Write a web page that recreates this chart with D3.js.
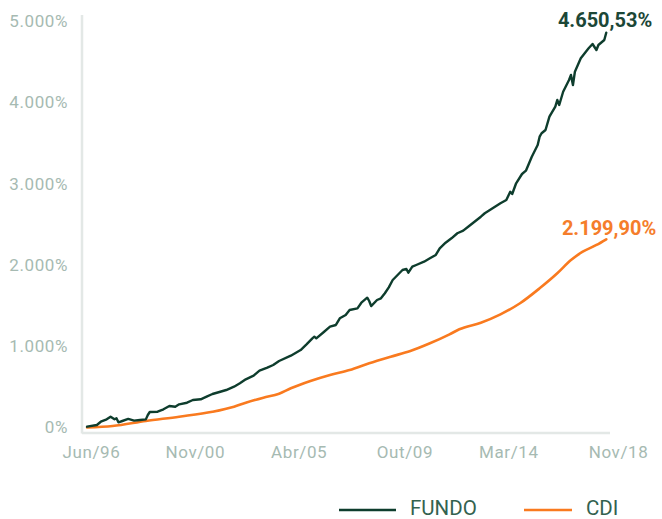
<!DOCTYPE html>
<html>
<head>
<meta charset="utf-8">
<script src="https://cdn.jsdelivr.net/npm/d3@7"></script>
<style>
  html, body { margin: 0; padding: 0; background: #ffffff; }
  svg { display: block; }
  text { font-family: Roboto, "Noto Sans", sans-serif; }
</style>
</head>
<body>
<svg id="chart" width="662" height="519"></svg>
<script>
// ---- data (month offsets counted from Jun/96) ----
const fundoMonths = [-2,3,5,8,10,12,13,14,16,19,22,25,28,29,30,34,37,40,43,45,49,52,56,59,62,66,69,73,76,79,83,86,90,93,96,102,107,110,113,114,115,119,122,125,127,130,132,136,138,141,142,143,146,148,150,152,154,157,159,161,162,164,166,170,173,176,178,181,184,187,190,193,199,201,205,209,212,214,215,217,220,222,225,228,229,230,232,234,237,238,239,241,244,245,246,247,250,252,254,256,258,259,262,263];
const fundoValues = [10,31,71,101,133,101,113,64,80,105,84,92,100,154,191,194,224,264,256,285,305,338,347,379,412,440,461,502,544,593,637,699,736,769,818,883,953,1023,1097,1117,1097,1178,1240,1261,1343,1384,1445,1466,1535,1597,1556,1494,1568,1589,1651,1724,1814,1888,1937,1950,1904,1978,1999,2039,2081,2122,2204,2273,2327,2389,2421,2478,2593,2635,2696,2758,2798,2900,2872,3004,3118,3159,3331,3475,3577,3619,3659,3823,3946,4028,3967,4130,4274,4336,4213,4376,4541,4603,4664,4717,4643,4705,4766,4856];

const cdiMonths = [-2,11,28,45,62,73,79,88,96,102,112,122,132,142,153,163,173,183,188,199,209,219,229,238,245,251,258,263];
const cdiValues = [0,18,80,133,194,256,305,367,415,482,572,646,707,790,871,941,1036,1146,1208,1289,1392,1528,1712,1897,2060,2162,2245,2315];

const tickMonths = [0,53,106,160,213,269];
const tickLabels = ["Jun/96","Nov/00","Abr/05","Out/09","Mar/14","Nov/18"];
const yTicks = [0,1000,2000,3000,4000,5000];

const seriesNames = ["FUNDO","CDI"];
const endLabels = ["4.650,53%","2.199,90%"];
const colors = ["#0e3d2d","#f97a1f"];
const labelColors = ["#1c4737","#f57d2b"];

// ---- chart ----
const svg = d3.select("#chart");
const x = d3.scaleLinear().domain([0, 269]).range([91, 618]);
const y = d3.scaleLinear().domain([0, 5000]).range([427.5, 21]);

const ptBR = d3.formatLocale({decimal: ",", thousands: ".", grouping: [3], currency: ["R$", ""]});
const fmt = ptBR.format(",");

// axis lines
svg.append("line").attr("x1", 82).attr("x2", 82).attr("y1", 15).attr("y2", 433.5)
  .attr("stroke", "#e3e8e6").attr("stroke-width", 2.5);
svg.append("line").attr("x1", 82).attr("x2", 610).attr("y1", 433).attr("y2", 433)
  .attr("stroke", "#e3e8e6").attr("stroke-width", 2.5);

// y axis labels
const yAxis = svg.append("g").attr("transform", "translate(82,0)")
  .call(d3.axisLeft(y).tickValues(yTicks).tickSize(0).tickPadding(14)
    .tickFormat(d => d === 0 ? "0%" : fmt(d) + "%"));
yAxis.select(".domain").remove();
yAxis.selectAll("text").attr("fill", "#a6bab2").style("font-size", "17px")
  .style("letter-spacing", "0.6px").style("font-family", "Roboto, sans-serif");

// x axis labels
const xAxis = svg.append("g").attr("transform", "translate(0,433)")
  .call(d3.axisBottom(x).tickValues(tickMonths).tickSize(0).tickPadding(13)
    .tickFormat((d, i) => tickLabels[i]));
xAxis.select(".domain").remove();
xAxis.selectAll("text").attr("fill", "#a6bab2").style("font-size", "17px")
  .style("letter-spacing", "0.6px").style("font-family", "Roboto, sans-serif");

// lines
const fundo = fundoMonths.map((m, i) => [m, fundoValues[i]]);
const cdi = cdiMonths.map((m, i) => [m, cdiValues[i]]);

const lineLinear = d3.line().x(d => x(d[0])).y(d => y(d[1]));
const lineSmooth = d3.line().x(d => x(d[0])).y(d => y(d[1])).curve(d3.curveMonotoneX);

svg.append("path").datum(cdi).attr("d", lineSmooth)
  .attr("fill", "none").attr("stroke", colors[1]).attr("stroke-width", 2.6)
  .attr("stroke-linejoin", "round").attr("stroke-linecap", "round");
svg.append("path").datum(fundo).attr("d", lineLinear)
  .attr("fill", "none").attr("stroke", colors[0]).attr("stroke-width", 2.4)
  .attr("stroke-linejoin", "round").attr("stroke-linecap", "round");

// end labels
const lastF = fundo[fundo.length - 1];
const lastC = cdi[cdi.length - 1];
svg.append("text").attr("x", x(lastF[0]) + 46).attr("y", y(lastF[1]) - 6)
  .attr("text-anchor", "end").attr("fill", labelColors[0])
  .style("font-size", "20px").style("font-weight", 700).text(endLabels[0]);
svg.append("text").attr("x", x(lastC[0]) + 50).attr("y", y(lastC[1]) - 4)
  .attr("text-anchor", "end").attr("fill", labelColors[1])
  .style("font-size", "20px").style("font-weight", 700).text(endLabels[1]);

// legend
const legendX = [339, 524];
const legend = svg.append("g");
seriesNames.forEach((name, i) => {
  const w = i === 0 ? 57 : 48;
  legend.append("line").attr("x1", legendX[i]).attr("x2", legendX[i] + w)
    .attr("y1", 510).attr("y2", 510).attr("stroke", colors[i]).attr("stroke-width", 2.6);
  legend.append("text").attr("x", legendX[i] + w + 14).attr("y", 514.5)
    .attr("fill", "#33624f").style("font-size", "20.5px").text(name);
});
</script>
</body>
</html>
